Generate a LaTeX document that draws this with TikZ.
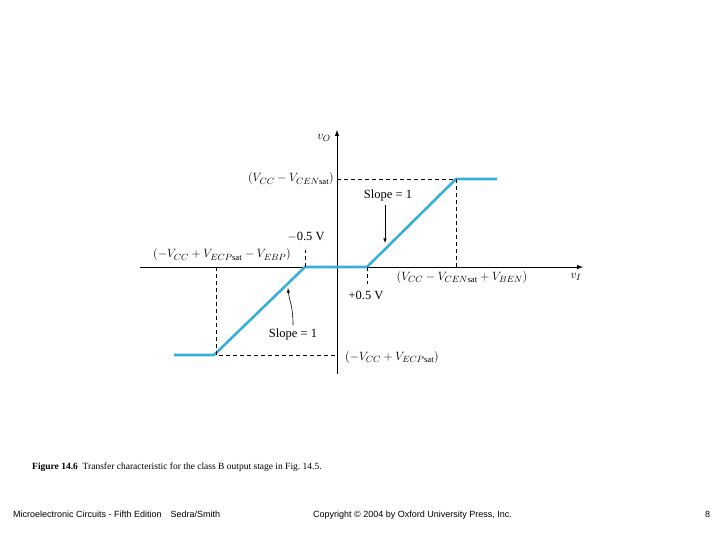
\documentclass[tikz,border=0pt]{standalone}
\usepackage{fontspec}
\setmainfont{Liberation Serif}
\newfontfamily\arialf{Liberation Sans}
\begin{document}
\begin{tikzpicture}[x=1pt,y=-1pt,
  axis/.style={line width=1pt,-latex},
  dsh/.style={dashed,line width=0.9pt,dash pattern=on 4pt off 3pt},
  lbl/.style={font=\fontsize{12.5}{14}\selectfont,inner sep=1pt},
  foot/.style={font=\arialf\fontsize{9}{10}\selectfont,anchor=base west,inner sep=0pt}]
\definecolor{crv}{RGB}{55,175,220}
\useasboundingbox (0,0) rectangle (720,540);
\coordinate (xl) at (140,267); \coordinate (xr) at (583,267);
\coordinate (yb) at (337,374); \coordinate (yt) at (337,130);
\draw[axis] (xl) -- (xr);
\draw[axis] (yb) -- (yt);
\coordinate (c1) at (174,355); \coordinate (c2) at (214,355);
\coordinate (c3) at (305,267); \coordinate (c4) at (367,267);
\coordinate (c5) at (456,179); \coordinate (c6) at (497,179);
\draw[line width=2.6pt,crv,line join=round] (c1) -- (c2) -- (c3) -- (c4) -- (c5) -- (c6);
\coordinate (d1) at (216,267); \coordinate (d2) at (216,355); \coordinate (d3) at (337,355);
\draw[dsh] (d1) -- (d2) -- (d3);
\coordinate (d4) at (337,179); \coordinate (d5) at (456,267);
\draw[dsh] (d4) -- (c5) -- (d5);
\coordinate (d6) at (305,250); \draw[dsh] (c3) -- (d6);
\coordinate (d7) at (367,284); \draw[dsh] (c4) -- (d7);
\node[lbl] (vo) at (324,138) {$v_O$};
\node[lbl] (vi) at (576,277) {$v_I$};
\node[lbl,anchor=east] (top) at (335,179) {$(V_{CC}-V_{CEN\mathrm{sat}})$};
\node[lbl] (s1) at (388,195) {Slope = 1};
\coordinate (a1) at (385,243);
\draw[-latex,line width=0.6pt] (s1.south -| a1) ++(0,3) -- (a1);
\node[lbl] (m05) at (306,237) {$-$0.5 V};
\node[lbl] (left) at (222,255) {$(-V_{CC}+V_{ECP\mathrm{sat}}-V_{EBP})$};
\node[lbl] (p05) at (366,295) {+0.5 V};
\node[lbl] (right) at (462,277) {$(V_{CC}-V_{CEN\mathrm{sat}}+V_{BEN})$};
\node[lbl] (s2) at (293,334) {Slope = 1};
\coordinate (a2) at (288,288);
\draw[-latex,line width=0.6pt] (293,325) .. controls (293,305) and (289,300) .. (a2);
\node[lbl] (bot) at (392,357) {$(-V_{CC}+V_{ECP\mathrm{sat}})$};
\node[anchor=base west,inner sep=0pt,font=\fontsize{9.5}{11}\selectfont] (cap) at (32,469) {\textbf{Figure 14.6}\ \ Transfer characteristic for the class B output stage in Fig.~14.5.};
\node[foot] (f1) at (13,517) {Microelectronic Circuits - Fifth Edition\quad Sedra/Smith};
\node[foot] (f2) at (313,517) {Copyright © 2004 by Oxford University Press, Inc.};
\node[foot] (f3) at (705,517) {8};
\end{tikzpicture}
\end{document}
